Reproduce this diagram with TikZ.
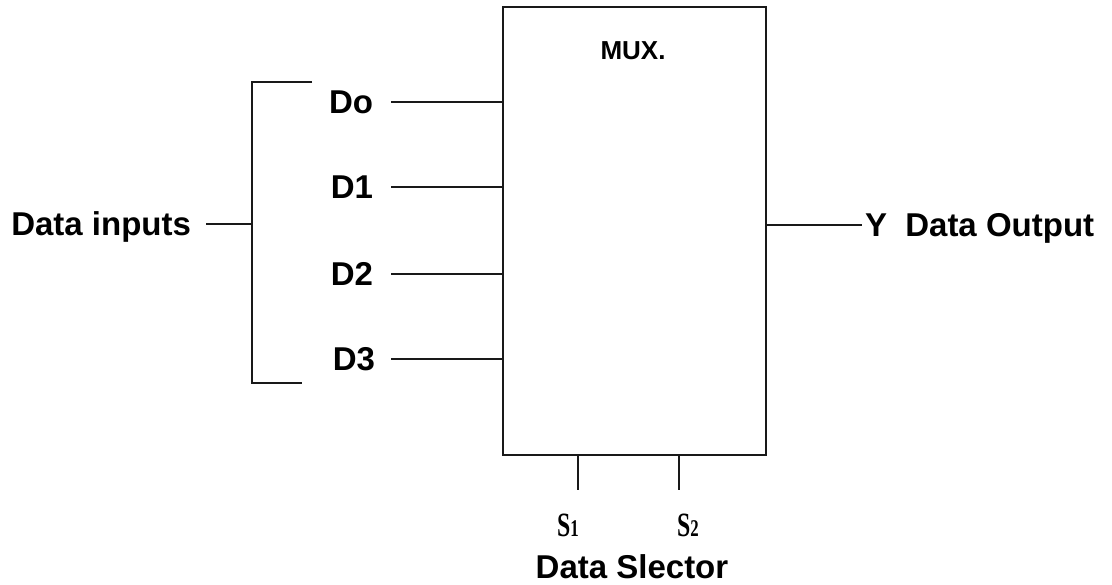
\documentclass[tikz,border=0pt]{standalone}
\usepackage{fontspec}
\usepackage{graphicx}
\setmainfont{Liberation Sans}
\newfontfamily\selfont{Liberation Serif}
\usetikzlibrary{positioning, calc}

\newcommand{\selname}[1]{\scalebox{0.7}[1]{S{\fontsize{24}{26}\selectfont #1}}}

\begin{document}
\begin{tikzpicture}[
    x=1pt, y=-1pt,
    every node/.style={font=\fontsize{33}{38}\selectfont\bfseries},
    wire/.style={line width=1.6pt, draw=black!90},
    lbl/.style={inner sep=0pt, text height=23.6pt, text depth=0pt},
    inlbl/.style={lbl, anchor=east, outer xsep=18pt},
    sel/.style={inner sep=0pt, text height=22pt, text depth=0pt,
                font=\fontsize{34}{38}\selectfont\selfont\bfseries}
]
\useasboundingbox (0,0) rectangle (1112,585);

% === Multiplexer block ===
\node[draw, wire, minimum width=263pt, minimum height=448pt, inner sep=0pt] (mux) at (634.5,231) {};
\node[inner sep=0pt, text height=19pt, text depth=0pt,
      font=\fontsize{26}{30}\selectfont\bfseries] (muxlbl) at (633,50) {MUX.};

% === Data inputs ===
\node[inlbl] (d0) at (391,102) {Do};
\node[inlbl] (d1) at (391,187) {D1};
\node[inlbl] (d2) at (391,274) {D2};
\node[inlbl, outer xsep=16pt] (d3) at (391,359) {D3};

\draw[wire] (d0.east) -- (d0.east -| mux.west);
\draw[wire] (d1.east) -- (d1.east -| mux.west);
\draw[wire] (d2.east) -- (d2.east -| mux.west);
\draw[wire] (d3.east) -- (d3.east -| mux.west);

% bracket grouping the inputs
\coordinate (brktop) at (312,82);
\coordinate (brkbot) at (302,383);
\coordinate (brk) at (252,224);
\draw[wire] (brktop) -- (brktop -| brk) -- (brkbot -| brk) -- (brkbot);

\node[lbl, anchor=east, outer xsep=15pt] (din) at (206,224) {Data inputs};
\draw[wire] (din.east) -- (brk);

% === Output ===
\node[lbl, anchor=west, outer xsep=3pt] (yout) at (862,225) {Y\ \ Data Output};
\draw[wire] (yout.west -| mux.east) -- (yout.west);

% === Select lines ===
\coordinate (s1end) at (578,490);
\coordinate (s2end) at (679,490);
\draw[wire] (s1end |- mux.south) -- (s1end);
\draw[wire] (s2end |- mux.south) -- (s2end);

\node[sel] (s1) at (568,525) {\selname{1}};
\node[sel] (s2) at (688,525) {\selname{2}};
\node[lbl] (dsel) at (632,567) {Data Slector};

\end{tikzpicture}
\end{document}
